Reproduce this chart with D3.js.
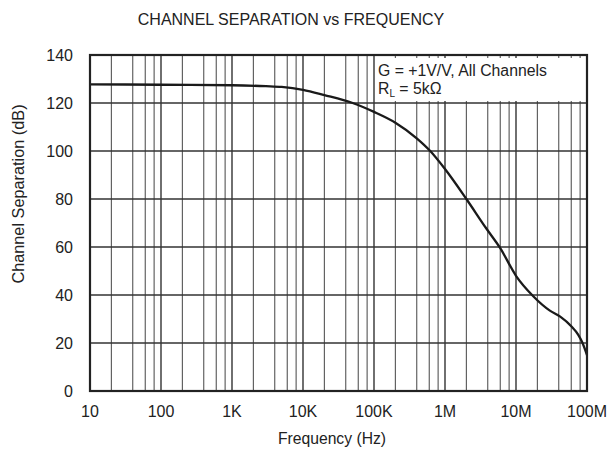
<!DOCTYPE html>
<html><head><meta charset="utf-8">
<script src="https://cdn.jsdelivr.net/npm/d3@7"></script>
<style>body{margin:0;background:#fff}svg text{font-family:"Liberation Sans",Arial,sans-serif;fill:#222}</style>
</head><body><svg id="c" width="610" height="452"></svg>
<script>
const freqs = [10,100,1e3,3e3,5e3,1e4,2e4,5e4,1e5,2e5,4e5,6.2e5,1e6,2e6,3.8e6,6e6,1e7,1.75e7,3e7,4.2e7,6e7,7.5e7,8.5e7,1e8];
const separation = [127.8,127.6,127.4,127,126.7,125.5,123.3,120,116.3,111.8,105.3,100,92.5,80,67.8,59.5,48,39.5,33.5,31,27,23.5,20.5,15];
const xTicks = [10,100,1e3,1e4,1e5,1e6,1e7,1e8];
const xTickLabels = ["10","100","1K","10K","100K","1M","10M","100M"];
const yTicks = [0,20,40,60,80,100,120,140];
const title = "CHANNEL SEPARATION vs FREQUENCY";
const xTitle = "Frequency (Hz)";
const yTitle = "Channel Separation (dB)";

const L=90,R=587,T=55,B=391;
const svg=d3.select("#c");
const x=d3.scaleLog().domain([10,1e8]).range([L,R]);
const y=d3.scaleLinear().domain([0,140]).range([B,T]);

const minor=[];
for(let d=10; d<1e8; d*=10){ for(const m of [2,4,6,8]) minor.push(d*m); }
svg.append("g").selectAll("line").data(minor).join("line")
  .attr("x1",d=>x(d)).attr("x2",d=>x(d)).attr("y1",T).attr("y2",B)
  .attr("stroke","#555").attr("stroke-width",1.1);
svg.append("g").selectAll("line").data(xTicks).join("line")
  .attr("x1",d=>x(d)).attr("x2",d=>x(d)).attr("y1",T).attr("y2",B)
  .attr("stroke","#222").attr("stroke-width",1.3);
svg.append("g").selectAll("line").data(yTicks).join("line")
  .attr("x1",L).attr("x2",R).attr("y1",d=>y(d)).attr("y2",d=>y(d))
  .attr("stroke","#333").attr("stroke-width",1.3);

svg.append("rect").attr("x",x(1e5)+1).attr("y",T+3).attr("width",R-x(1e5)-1).attr("height",y(120)-T-5).attr("fill","#fff");
svg.append("text").attr("x",x(1e5)+4).attr("y",76).attr("font-size",15.8).text("G = +1V/V, All Channels");
const lg2=svg.append("text").attr("x",x(1e5)+4).attr("y",94).attr("font-size",15.8);
lg2.append("tspan").text("R");
lg2.append("tspan").attr("font-size",10).attr("dy",3).text("L");
lg2.append("tspan").attr("dy",-3).text(" = 5kΩ");

const line=d3.line().x((d,i)=>x(freqs[i])).y(d=>y(d)).curve(d3.curveMonotoneX);
svg.append("path").attr("d",line(separation)).attr("fill","none").attr("stroke","#1a1a1a").attr("stroke-width",2.3);

svg.append("rect").attr("x",L).attr("y",T).attr("width",R-L).attr("height",B-T).attr("fill","none").attr("stroke","#222").attr("stroke-width",2.2);

svg.append("g").selectAll("text").data(xTicks).join("text")
  .attr("x",d=>x(d)).attr("y",417).attr("text-anchor","middle").attr("font-size",16)
  .text((d,i)=>xTickLabels[i]);
svg.append("g").selectAll("text").data(yTicks).join("text")
  .attr("x",73).attr("y",d=>y(d)+5.5).attr("text-anchor","end").attr("font-size",16)
  .text(d=>d);

svg.append("text").attr("x",291).attr("y",25).attr("text-anchor","middle").attr("font-size",16).text(title);
svg.append("text").attr("x",332).attr("y",444).attr("text-anchor","middle").attr("font-size",15.7).text(xTitle);
svg.append("text").attr("transform","translate(24,194) rotate(-90)").attr("text-anchor","middle").attr("font-size",16.3).text(yTitle);
</script></body></html>
